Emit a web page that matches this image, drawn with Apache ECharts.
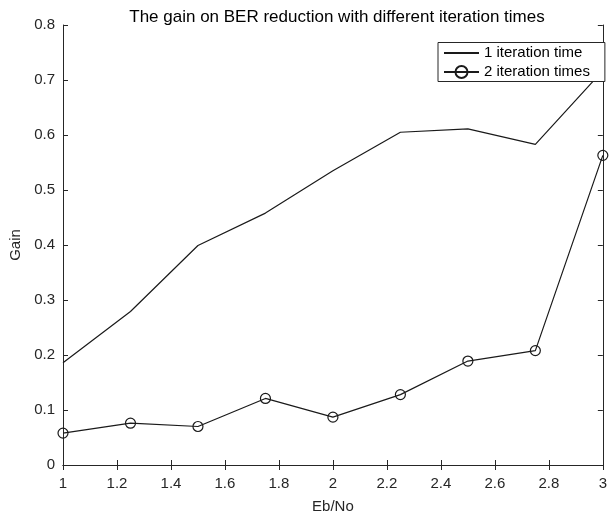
<!DOCTYPE html>
<html><head><meta charset="utf-8">
<script src="https://cdn.jsdelivr.net/npm/echarts@6/dist/echarts.min.js"></script>
<style>html,body{margin:0;padding:0;background:#fff}#c{width:610px;height:519px}</style>
</head><body><div id="c"></div>
<script>
const ebno = [1, 1.25, 1.5, 1.75, 2, 2.25, 2.5, 2.75, 3];
const gain1 = [0.186, 0.279, 0.399, 0.458, 0.535, 0.605, 0.611, 0.583, 0.717];
const gain2 = [0.058, 0.076, 0.070, 0.121, 0.087, 0.128, 0.189, 0.208, 0.563];
const seriesNames = ['1 iteration time', '2 iteration times'];
const titleText = 'The gain on BER reduction with different iteration times';

const font = 'Liberation Sans, Arial, Helvetica, sans-serif';
const axisCol = '#262626';
const lineCol = '#1a1a1a';
const chart = echarts.init(document.getElementById('c'));
const tickStyle = {show: true, inside: true, length: 5, lineStyle: {color: axisCol, width: 1}};
const clear = 'rgba(0,0,0,0)';
chart.setOption({
  animation: false,
  title: {text: titleText, left: 332, textAlign: 'center', top: 4,
    textStyle: {fontFamily: font, fontSize: 17, fontWeight: 'normal', color: '#000'}},
  grid: {left: 58.5, right: 4.5, top: 25, bottom: 50, containLabel: false},
  legend: {
    orient: 'vertical', left: 438, top: 42.5, borderColor: axisCol, borderWidth: 1,
    backgroundColor: '#fff', padding: [3, 15, 2, 5], itemGap: 4, itemWidth: 35, itemHeight: 15,
    textStyle: {fontFamily: font, fontSize: 15, color: '#000'},
    data: [
      {name: seriesNames[0], itemStyle: {color: clear, borderColor: clear, borderWidth: 0, opacity: 0}},
      {name: seriesNames[1]}
    ]
  },
  xAxis: [{
    type: 'value', min: 1, max: 3, interval: 0.2,
    name: 'Eb/No', nameLocation: 'middle', nameGap: 34,
    nameTextStyle: {fontFamily: font, fontSize: 15, color: axisCol},
    axisLine: {lineStyle: {color: axisCol, width: 1}},
    axisTick: tickStyle,
    axisLabel: {fontFamily: font, fontSize: 15, color: axisCol, margin: 11,
      formatter: v => String(Math.round(v * 10) / 10)},
    splitLine: {show: false}
  }, {
    type: 'value', position: 'top', min: 1, max: 3, interval: 0.2,
    axisLine: {show: true, lineStyle: {color: axisCol, width: 1}},
    axisTick: tickStyle, axisLabel: {show: false}, splitLine: {show: false}
  }],
  yAxis: [{
    type: 'value', min: 0, max: 0.8, interval: 0.1,
    name: 'Gain', nameLocation: 'middle', nameGap: 40, nameRotate: 90,
    nameTextStyle: {fontFamily: font, fontSize: 15, color: axisCol},
    axisLine: {show: true, lineStyle: {color: axisCol, width: 1}},
    axisTick: tickStyle,
    axisLabel: {fontFamily: font, fontSize: 15, color: axisCol, margin: 8,
      formatter: v => String(Math.round(v * 10) / 10)},
    splitLine: {show: false}
  }, {
    type: 'value', position: 'right', min: 0, max: 0.8, interval: 0.1,
    axisLine: {show: true, lineStyle: {color: axisCol, width: 1}},
    axisTick: tickStyle, axisLabel: {show: false}, splitLine: {show: false}
  }],
  series: [{
    name: seriesNames[0], type: 'line', symbol: 'none',
    data: ebno.map((x, i) => [x, gain1[i]]),
    lineStyle: {color: lineCol, width: 1.2}, itemStyle: {color: lineCol}
  }, {
    name: seriesNames[1], type: 'line', symbol: 'circle', symbolSize: 10,
    data: ebno.map((x, i) => [x, gain2[i]]),
    lineStyle: {color: lineCol, width: 1.2},
    itemStyle: {color: clear, borderColor: lineCol, borderWidth: 1.2}
  }]
});
</script></body></html>
